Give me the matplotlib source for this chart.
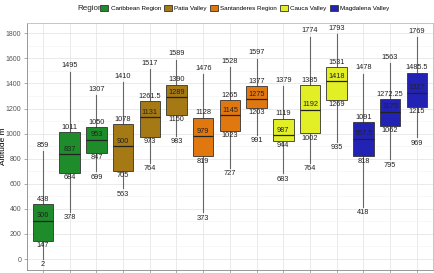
import numpy as np
import matplotlib.pyplot as plt
from matplotlib.patches import Patch

plt.rcParams['font.family'] = ['Liberation Sans', 'DejaVu Sans']

regions = ['Caribbean Region', 'Patia Valley', 'Santanderes Region', 'Cauca Valley', 'Magdalena Valley']
colors = ['#1f8c2c', '#a57a15', '#e0780f', '#e2ee26', '#2222b5']

# five-number summaries, 3 boxes per region
mins = [2, 378, 699, 563, 764, 983, 373, 727, 991, 683, 764, 935, 418, 795, 969]
q1s = [147, 684, 847, 705, 973, 1150, 819, 1023, 1203, 944, 1002, 1269, 818, 1062, 1215]
meds = [306, 837, 953, 900, 1131, 1289, 979, 1145, 1275, 987, 1192, 1418, 957.5, 1175, 1327]
q3s = [438, 1011, 1050, 1078, 1261.5, 1390, 1128, 1265, 1377, 1119, 1385, 1531, 1091, 1272.25, 1485.5]
maxs = [859, 1495, 1307, 1410, 1517, 1589, 1476, 1528, 1597, 1379, 1774, 1793, 1478, 1563, 1769]

fig = plt.figure(figsize=(4.35, 2.73), dpi=100)
ax = fig.add_axes([0.062, 0.011, 0.933, 0.905])

stats = []
for i in range(len(mins)):
    stats.append(dict(whislo=mins[i], q1=q1s[i], med=meds[i], q3=q3s[i], whishi=maxs[i], fliers=[]))
pos = np.arange(1, len(mins) + 1)
bp = ax.bxp(stats, positions=pos, widths=0.77, patch_artist=True, showcaps=False,
            boxprops=dict(linewidth=0.6, edgecolor='#333333'),
            whiskerprops=dict(color='#666666', linewidth=0.8),
            medianprops=dict(color='#222222', linewidth=0.9))
for i, b in enumerate(bp['boxes']):
    b.set_facecolor(colors[i // 3])
    b.set_zorder(3)
for m in bp['medians']:
    m.set_zorder(4)

def fmt(v):
    return ('%g' % v)

fs = 5.3
for i, p in enumerate(pos):
    ax.text(p, mins[i] - 18, fmt(mins[i]), ha='center', va='top', fontsize=fs, color='#222222', zorder=5)
    ax.text(p, q1s[i] - 10, fmt(q1s[i]), ha='center', va='top', fontsize=fs, color='#222222', zorder=5)
    ax.text(p, meds[i] + 12, fmt(meds[i]), ha='center', va='bottom', fontsize=fs, color='#222222', zorder=5)
    ax.text(p, q3s[i] + 10, fmt(q3s[i]), ha='center', va='bottom', fontsize=fs, color='#222222', zorder=5)
    ax.text(p, maxs[i] + 18, fmt(maxs[i]), ha='center', va='bottom', fontsize=fs, color='#222222', zorder=5)

ax.set_xlim(0.4, 15.6)
ax.set_ylim(-87.5, 1882.5)
ax.set_yticks(np.arange(0, 1801, 200))
ax.set_yticks(np.arange(100, 1801, 200), minor=True)
ax.set_xticks(pos)
ax.set_xticklabels([])
ax.grid(which='major', color='#e6e6e6', linewidth=0.6)
ax.grid(which='minor', color='#f2f2f2', linewidth=0.4)
ax.set_axisbelow(True)
ax.tick_params(axis='both', which='major', length=2.5, width=0.5, color='#888888', labelsize=5.0, labelcolor='#555555', pad=1.5)
ax.tick_params(axis='y', which='minor', length=0)
for s in ax.spines.values():
    s.set_color('#bbbbbb')
    s.set_linewidth(0.6)
ax.spines['left'].set_color('#888888')
ax.spines['bottom'].set_color('#888888')
ax.set_ylabel('Altitude m', fontsize=6.0, labelpad=1)
ax.yaxis.set_label_coords(-0.049, 0.5)

# legend across the top, title to the left
fig.text(77 / 435, 1 - 8 / 273, 'Region', fontsize=5.8, ha='left', va='center', color='#222222')
handles = [Patch(facecolor=c, edgecolor='#333333', linewidth=0.6) for c in colors]
fig.legend(handles, regions, loc='center left', bbox_to_anchor=(100 / 435, 1 - 8 / 273), ncol=5,
           frameon=False, fontsize=4.5, handlelength=1.3, handleheight=1.2,
           handletextpad=0.4, columnspacing=0.45, borderaxespad=0, borderpad=0)

fig.savefig('out.png', dpi=100)
